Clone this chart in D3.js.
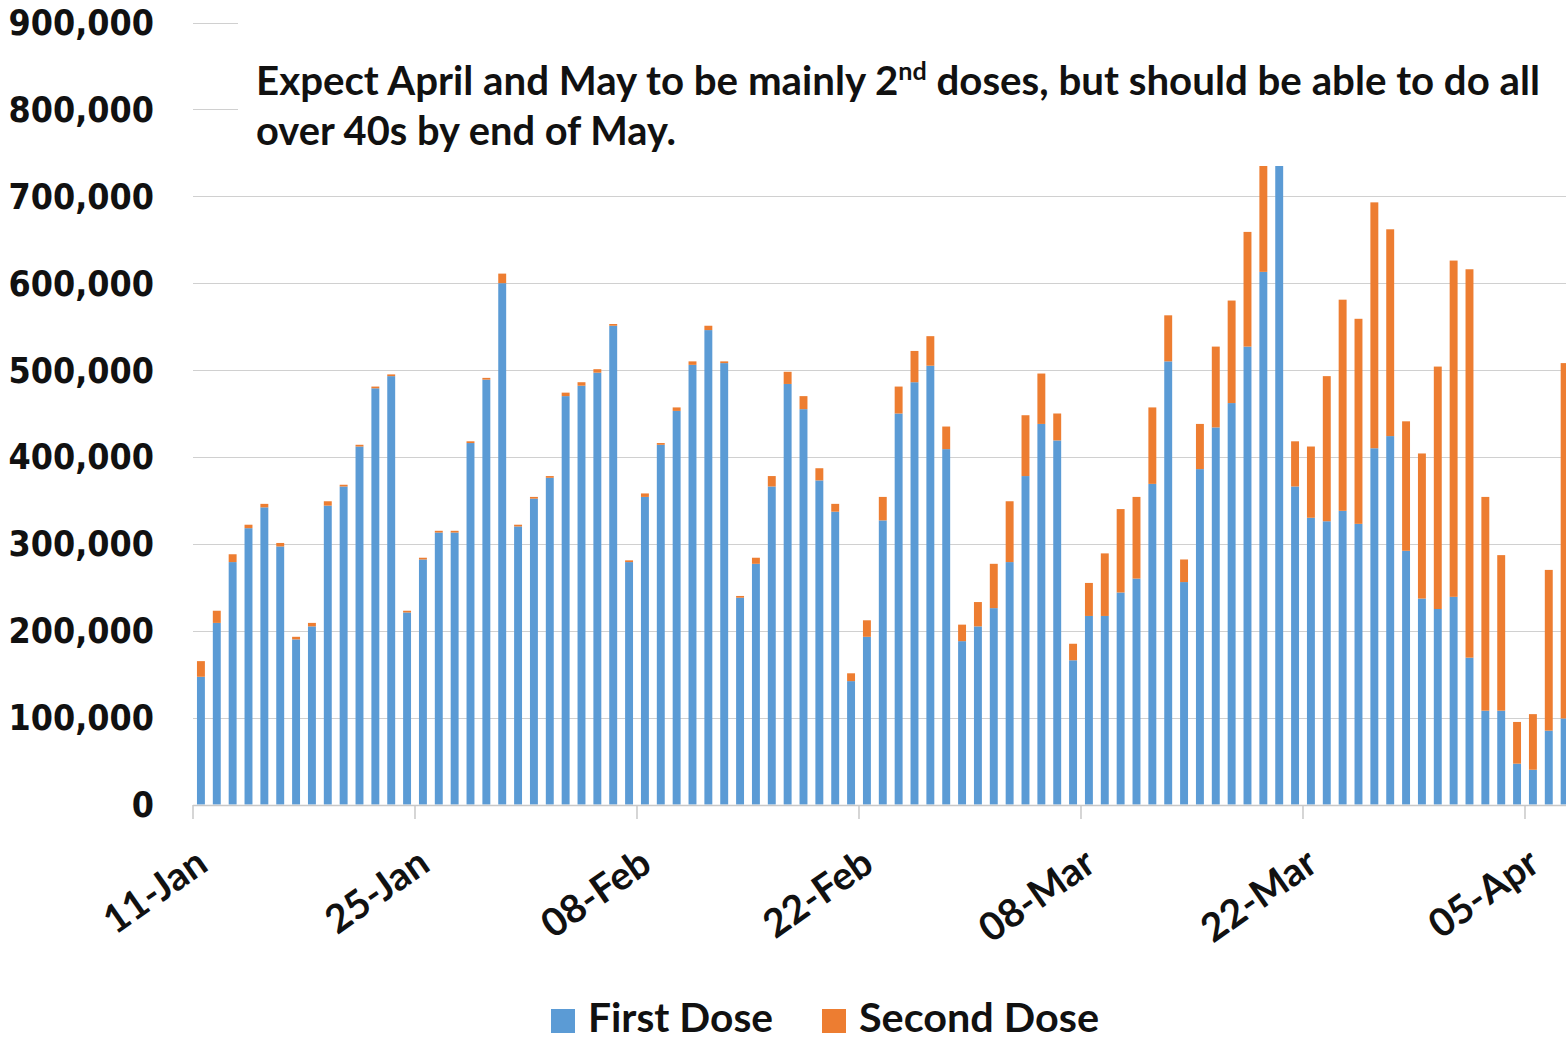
<!DOCTYPE html>
<html>
<head>
<meta charset="utf-8">
<script src="https://cdnjs.cloudflare.com/ajax/libs/d3/7.8.5/d3.min.js"></script>
<style>
  body { margin: 0; background: #fff; }
  svg { display: block; }
</style>
</head>
<body>
<script>
// daily doses, in thousands, starting 11-Jan
var startDate = new Date(2021, 0, 11);
var firstDose = [147, 209, 279, 318, 342, 297, 190, 205, 344, 366, 412, 479, 493, 221,
                 282, 313, 313, 416, 489, 600, 320, 352, 376, 470, 482, 497, 551, 279,
                 354, 414, 453, 506, 546, 508, 238, 277, 366, 484, 455, 373, 337, 142,
                 193, 327, 450, 486, 505, 409, 188, 205, 226, 279, 378, 438, 419, 166,
                 217, 217, 244, 260, 369, 510, 256, 386, 434, 462, 527, 613, 760, 366,
                 330, 326, 338, 323, 410, 424, 292, 237, 225, 239, 169, 108, 108, 47,
                 40, 85, 99];
var secondDose = [18, 14, 9, 4, 4, 4, 3, 4, 5, 2, 2, 2, 2, 2,
                  2, 2, 2, 2, 2, 11, 2, 2, 2, 4, 4, 4, 2, 2,
                  4, 2, 4, 4, 5, 2, 2, 7, 12, 14, 15, 14, 9, 9,
                  19, 27, 31, 36, 34, 26, 19, 28, 51, 70, 70, 58, 31, 19,
                  38, 72, 96, 94, 88, 53, 26, 52, 93, 118, 132, 167, 40, 52,
                  82, 167, 243, 236, 283, 238, 149, 167, 279, 387, 447, 246, 179, 48,
                  64, 185, 409];
var tickLabels = ["11-Jan", "25-Jan", "08-Feb", "22-Feb", "08-Mar", "22-Mar", "05-Apr"];
var yTicks = [0, 100, 200, 300, 400, 500, 600, 700, 800, 900];
var seriesNames = ["First Dose", "Second Dose"];
var colors = ["#5B9BD5", "#ED7D31"];

var W = 1566, H = 1041;
var dayW = 15.857;
var nDays = 88;

var days = d3.timeDay.range(startDate, d3.timeDay.offset(startDate, nDays));

var svg = d3.select("body").append("svg")
  .attr("width", W).attr("height", H);

var x = d3.scaleBand()
  .domain(days)
  .range([193, 193 + nDays * dayW])
  .paddingInner(0.5)
  .paddingOuter(0.25);

var y = d3.scaleLinear().domain([0, 900]).range([804.5, 22.5]);

// gridlines
svg.append("g").selectAll("line")
  .data(yTicks.filter(function(d){ return d > 0; }))
  .enter().append("line")
  .attr("x1", 193).attr("x2", W)
  .attr("y1", function(d){ return Math.round(y(d)) + 0.5; })
  .attr("y2", function(d){ return Math.round(y(d)) + 0.5; })
  .attr("stroke", "#d0d0d0").attr("stroke-width", 1.2);

// y labels
svg.append("g").selectAll("text")
  .data(yTicks)
  .enter().append("text")
  .attr("transform", function(d){ return "translate(154," + (y(d) + 12.5) + ") scale(0.9,1)"; })
  .attr("text-anchor", "end")
  .attr("font-family", "DejaVu Sans")
  .attr("font-weight", "bold")
  .attr("font-size", 35.5)
  .attr("fill", "#111")
  .text(function(d){ return d3.format(",")(d * 1000); });

// stacked bars
var rows = firstDose.map(function(v, i){
  return { day: days[i], first: v, second: secondDose[i] };
});
var stack = d3.stack().keys(["first", "second"])(rows);

svg.append("g").selectAll("g")
  .data(stack)
  .enter().append("g")
  .attr("fill", function(d, i){ return colors[i]; })
  .selectAll("rect")
  .data(function(d){ return d; })
  .enter().append("rect")
  .attr("x", function(d){ return x(d.data.day); })
  .attr("width", x.bandwidth())
  .attr("y", function(d){ return y(d[1]); })
  .attr("height", function(d){ return y(d[0]) - y(d[1]); });

// x axis line + ticks
svg.append("line")
  .attr("x1", 193).attr("x2", W)
  .attr("y1", 805.5).attr("y2", 805.5)
  .attr("stroke", "#c8c8c8").attr("stroke-width", 1.5);

var tickPos = tickLabels.map(function(t, i){ return 193 + i * 14 * dayW; });

svg.append("g").selectAll("line")
  .data(tickPos)
  .enter().append("line")
  .attr("x1", function(d){ return d; }).attr("x2", function(d){ return d; })
  .attr("y1", 805).attr("y2", 819)
  .attr("stroke", "#c8c8c8").attr("stroke-width", 1.5);

svg.append("g").selectAll("text")
  .data(tickLabels)
  .enter().append("text")
  .attr("transform", function(d, i){ return "translate(" + (tickPos[i] + 17) + ",869) rotate(-35)"; })
  .attr("text-anchor", "end")
  .attr("font-family", "Lato")
  .attr("font-weight", "bold")
  .attr("font-size", 39)
  .attr("fill", "#111")
  .text(function(d){ return d; });

// annotation box (sits over the top of the tallest bars)
svg.append("rect")
  .attr("x", 238).attr("y", 0)
  .attr("width", W - 238).attr("height", 166)
  .attr("fill", "#fff");

var note1 = svg.append("text")
  .attr("x", 256).attr("y", 95)
  .attr("font-family", "Lato")
  .attr("font-weight", "bold")
  .attr("font-size", 40)
  .attr("fill", "#111")
  .attr("textLength", 1284)
  .attr("lengthAdjust", "spacingAndGlyphs");
note1.append("tspan").text("Expect April and May to be mainly 2");
note1.append("tspan").attr("font-size", 25).attr("dy", -15).text("nd");
note1.append("tspan").attr("dy", 15).text(" doses, but should be able to do all");

svg.append("text")
  .attr("x", 256).attr("y", 145)
  .attr("font-family", "Lato")
  .attr("font-weight", "bold")
  .attr("font-size", 40)
  .attr("fill", "#111")
  .attr("textLength", 420)
  .attr("lengthAdjust", "spacingAndGlyphs")
  .text("over 40s by end of May.");

// legend
var legX = [551, 822];
var legW = [185, 240];
var leg = svg.append("g").selectAll("g")
  .data(seriesNames)
  .enter().append("g");
leg.append("rect")
  .attr("x", function(d, i){ return legX[i]; })
  .attr("y", 1009).attr("width", 24).attr("height", 24)
  .attr("fill", function(d, i){ return colors[i]; });
leg.append("text")
  .attr("x", function(d, i){ return legX[i] + 37; })
  .attr("y", 1032)
  .attr("font-family", "Lato")
  .attr("font-weight", "bold")
  .attr("font-size", 41)
  .attr("fill", "#111")
  .attr("textLength", function(d, i){ return legW[i]; })
  .attr("lengthAdjust", "spacingAndGlyphs")
  .text(function(d){ return d; });
</script>
</body>
</html>
